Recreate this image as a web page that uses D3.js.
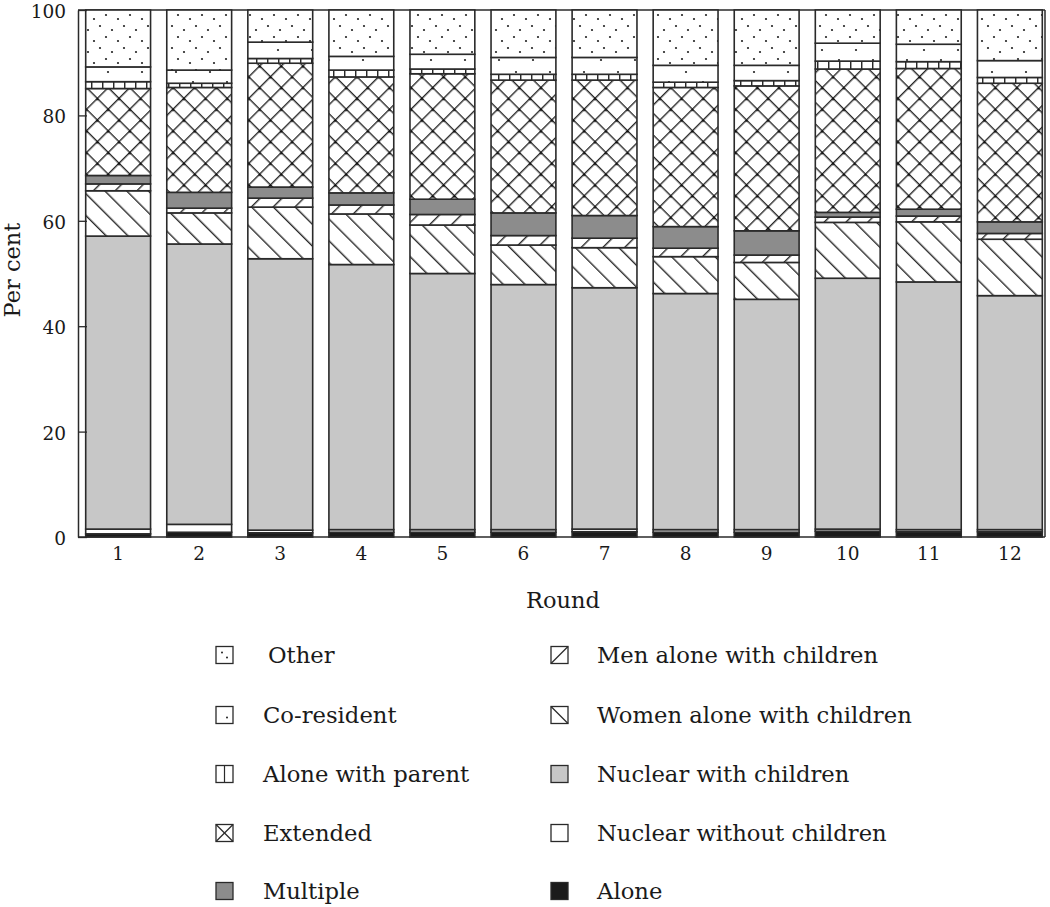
<!DOCTYPE html>
<html>
<head>
<meta charset="utf-8">
<script src="https://cdn.jsdelivr.net/npm/d3@7"></script>
<style>
  html, body { margin: 0; padding: 0; background: #fff; }
  text { font-family: "DejaVu Serif", "Liberation Serif", serif; fill: #1a1a1a; }
</style>
</head>
<body>
<svg id="chart" width="1050" height="907"></svg>
<script>
// ---------- data ----------
const rounds = ["1","2","3","4","5","6","7","8","9","10","11","12"];
const yTicks = [0, 20, 40, 60, 80, 100];

const alone            = [0.6, 0.9, 0.8, 0.9, 0.9, 0.9, 1.0, 0.9, 0.9, 1.1, 1.0, 1.0];
const nuclearWithout   = [0.9, 1.5, 0.5, 0.5, 0.5, 0.5, 0.5, 0.5, 0.5, 0.4, 0.4, 0.4];
const nuclearWith      = [55.6, 53.2, 51.5, 50.3, 48.6, 46.5, 45.8, 44.8, 43.7, 47.6, 47.0, 44.4];
const womenAlone       = [8.6, 5.9, 9.8, 9.6, 9.2, 7.5, 7.6, 7.0, 7.0, 10.6, 11.4, 10.7];
const menAlone         = [1.3, 0.9, 1.7, 1.7, 2.0, 1.8, 1.8, 1.6, 1.4, 1.0, 1.1, 1.1];
const multiple         = [1.6, 3.0, 2.1, 2.3, 2.9, 4.3, 4.3, 4.1, 4.6, 0.9, 1.3, 2.2];
const extended         = [16.5, 19.9, 23.5, 22.0, 23.8, 25.2, 25.7, 26.4, 27.5, 27.2, 26.7, 26.3];
const aloneWithParent  = [1.3, 0.8, 0.9, 1.3, 0.9, 1.1, 1.1, 1.0, 1.0, 1.5, 1.3, 1.1];
const coResident       = [2.8, 2.5, 3.1, 2.6, 2.8, 3.2, 3.2, 3.2, 2.9, 3.4, 3.3, 3.2];
const other            = [10.8, 11.4, 6.1, 8.8, 8.4, 9.0, 9.0, 10.5, 10.5, 6.3, 6.5, 9.6];

const seriesKeys = ["Alone", "Nuclear without children", "Nuclear with children",
  "Women alone with children", "Men alone with children", "Multiple", "Extended",
  "Alone with parent", "Co-resident", "Other"];
const seriesValues = [alone, nuclearWithout, nuclearWith, womenAlone, menAlone,
  multiple, extended, aloneWithParent, coResident, other];

const legendLeft  = ["Other", "Co-resident", "Alone with parent", "Extended", "Multiple"];
const legendRight = ["Men alone with children", "Women alone with children",
  "Nuclear with children", "Nuclear without children", "Alone"];

(function () {
// ---------- build table ----------
const table = rounds.map((r, i) => {
  const row = { round: r };
  seriesKeys.forEach((k, j) => row[k] = seriesValues[j][i]);
  return row;
});

// ---------- layout ----------
const svg = d3.select("#chart");
const pLeft = 78, pRight = 1045, pTop = 10, pBottom = 537;
const ink = "#2a2a2a";

const x = d3.scaleBand().domain(rounds).range([pLeft, 1050])
  .paddingInner(0.2).paddingOuter(0.095);
const y = d3.scaleLinear().domain([0, 100]).range([pBottom, pTop]);

// ---------- patterns ----------
const defs = svg.append("defs");
function hatch(id, angle, spacing) {
  const p = defs.append("pattern").attr("id", id).attr("patternUnits", "userSpaceOnUse")
    .attr("width", spacing).attr("height", spacing)
    .attr("patternTransform", `rotate(${angle})`);
  p.append("rect").attr("width", spacing).attr("height", spacing).attr("fill", "#fff");
  p.append("line").attr("x1", 0.7).attr("y1", 0).attr("x2", 0.7).attr("y2", spacing)
    .attr("stroke", ink).attr("stroke-width", 1.4);
  return p;
}
hatch("pWomen", -45, 15.4);
hatch("pMen", 45, 15.4);
{
  const s = 15.3;
  const p = defs.append("pattern").attr("id", "pExt").attr("patternUnits", "userSpaceOnUse")
    .attr("width", s).attr("height", s).attr("patternTransform", "rotate(45)");
  p.append("rect").attr("width", s).attr("height", s).attr("fill", "#fff");
  p.append("line").attr("x1", 0.7).attr("y1", 0).attr("x2", 0.7).attr("y2", s)
    .attr("stroke", ink).attr("stroke-width", 1.4);
  p.append("line").attr("x1", 0).attr("y1", 0.7).attr("x2", s).attr("y2", 0.7)
    .attr("stroke", ink).attr("stroke-width", 1.4);
  p.append("circle").attr("cx", 0.7).attr("cy", 0.7).attr("r", 2).attr("fill", "#111");
}
{
  const p = defs.append("pattern").attr("id", "pParent").attr("patternUnits", "userSpaceOnUse")
    .attr("width", 11).attr("height", 20).attr("x", 3);
  p.append("rect").attr("width", 11).attr("height", 20).attr("fill", "#fff");
  p.append("line").attr("x1", 0.7).attr("y1", 0).attr("x2", 0.7).attr("y2", 20)
    .attr("stroke", ink).attr("stroke-width", 1.5);
}
function dots(id, w, h, pts) {
  const p = defs.append("pattern").attr("id", id).attr("patternUnits", "userSpaceOnUse")
    .attr("width", w).attr("height", h);
  p.append("rect").attr("width", w).attr("height", h).attr("fill", "#fff");
  pts.forEach(([cx, cy]) => p.append("circle").attr("cx", cx).attr("cy", cy)
    .attr("r", 1.1).attr("fill", "#222"));
}
dots("pOther", 24, 22, [[4, 4], [16, 8], [10, 15], [22, 19]]);
dots("pCo", 34, 22, [[6, 6], [23, 16]]);

const fills = {
  "Alone": "#1b1b1b",
  "Nuclear without children": "#ffffff",
  "Nuclear with children": "#c7c7c7",
  "Women alone with children": "url(#pWomen)",
  "Men alone with children": "url(#pMen)",
  "Multiple": "#8c8c8c",
  "Extended": "url(#pExt)",
  "Alone with parent": "url(#pParent)",
  "Co-resident": "url(#pCo)",
  "Other": "url(#pOther)"
};

// ---------- frame ----------
svg.append("line").attr("x1", pLeft).attr("x2", pRight).attr("y1", pTop).attr("y2", pTop)
  .attr("stroke", ink).attr("stroke-width", 1.5);
svg.append("line").attr("x1", pRight).attr("x2", pRight).attr("y1", pTop).attr("y2", pBottom)
  .attr("stroke", ink).attr("stroke-width", 1.5);

// ---------- bars ----------
const stacked = d3.stack().keys(seriesKeys)(table);
const layers = svg.append("g").selectAll("g").data(stacked).join("g")
  .attr("fill", d => fills[d.key]);
layers.selectAll("rect").data(d => d).join("rect")
  .attr("x", d => x(d.data.round))
  .attr("width", x.bandwidth())
  .attr("y", d => y(d[1]))
  .attr("height", d => y(d[0]) - y(d[1]))
  .attr("stroke", ink).attr("stroke-width", 1.6);

// ---------- axes ----------
const yAxis = svg.append("g").attr("transform", `translate(${pLeft},0)`)
  .call(d3.axisLeft(y).tickValues(yTicks).tickSizeInner(-9).tickSizeOuter(0).tickPadding(12));
yAxis.select(".domain").attr("stroke", ink).attr("stroke-width", 1.5);
yAxis.selectAll(".tick line").attr("stroke", ink).attr("stroke-width", 1.3);
yAxis.selectAll("text").attr("font-size", 18.5).attr("dy", "0.4em")
  .attr("font-family", "DejaVu Serif").attr("fill", "#1a1a1a");

const xAxis = svg.append("g").attr("transform", `translate(0,${pBottom})`)
  .call(d3.axisBottom(x).tickSize(0).tickPadding(10));
xAxis.select(".domain").attr("stroke", ink).attr("stroke-width", 1.5)
  .attr("d", `M${pLeft},0H${pRight}`);
xAxis.selectAll("text").attr("font-size", 18.5).attr("font-family", "DejaVu Serif").attr("fill", "#1a1a1a");

svg.append("text").attr("transform", "translate(20,270) rotate(-90)")
  .attr("text-anchor", "middle").attr("font-size", 22.5).text("Per cent");
svg.append("text").attr("x", 563).attr("y", 608)
  .attr("text-anchor", "middle").attr("font-size", 22.5).text("Round");

// ---------- legend ----------
const rowY = [655, 715, 774, 833, 891];
function legendSymbol(g, key) {
  const s = 17;
  const sym = g.append("g").attr("transform", `translate(0,${-s / 2})`);
  let fill = "#fff";
  if (key === "Multiple" || key === "Nuclear with children" || key === "Alone") fill = fills[key];
  sym.append("rect").attr("width", s).attr("height", s).attr("fill", fill)
    .attr("stroke", ink).attr("stroke-width", 1.3);
  const L = (x1, y1, x2, y2) => sym.append("line").attr("x1", x1).attr("y1", y1)
    .attr("x2", x2).attr("y2", y2).attr("stroke", ink).attr("stroke-width", 1.2);
  const D = (cx, cy) => sym.append("circle").attr("cx", cx).attr("cy", cy).attr("r", 1).attr("fill", "#222");
  if (key === "Other") { D(6, 6); D(11, 11); }
  if (key === "Co-resident") { D(11, 11); }
  if (key === "Alone with parent") { L(8.5, 0, 8.5, s); }
  if (key === "Extended") { L(0, 0, s, s); L(0, s, s, 0); }
  if (key === "Men alone with children") { L(0, s, s, 0); }
  if (key === "Women alone with children") { L(0, 0, s, s); }
}
function legendColumn(keys, sx, tx) {
  const g = svg.append("g");
  keys.forEach((k, i) => {
    const row = g.append("g").attr("transform", `translate(${sx},${rowY[i]})`);
    legendSymbol(row, k);
    row.append("text").attr("x", tx - sx + (k === "Other" ? 5 : 0)).attr("y", 8)
      .attr("font-size", 22.7).text(k);
  });
}
legendColumn(legendLeft, 216, 263);
legendColumn(legendRight, 551, 597);
})();
</script>
</body>
</html>
